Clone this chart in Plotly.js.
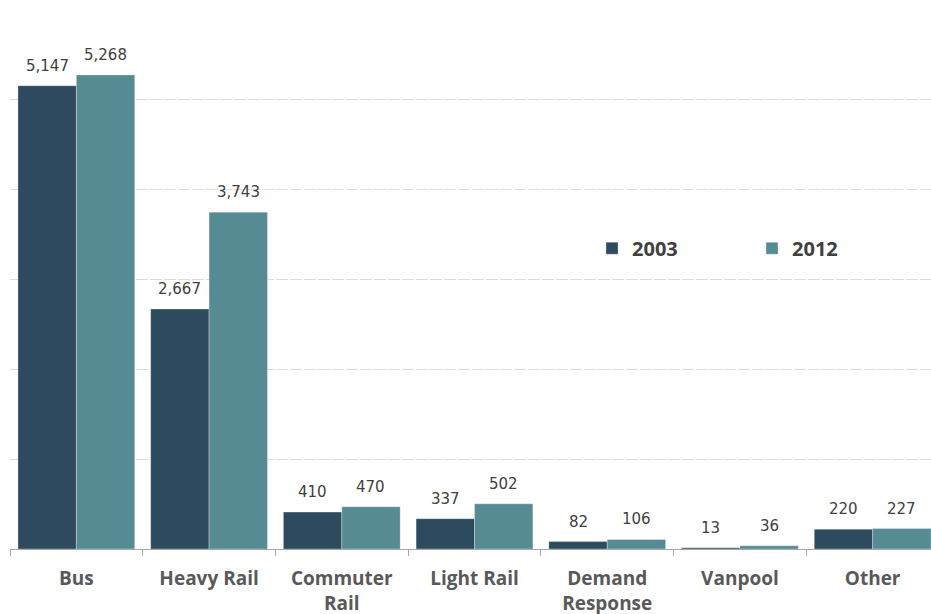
<!DOCTYPE html>
<html><head><meta charset="utf-8">
<script src="https://cdn.plot.ly/plotly-3.0.1.min.js"></script>
<style>html,body{margin:0;padding:0;overflow:hidden;background:#fff}</style>
</head><body><div id="chart"></div>
<script>
const categories = ["Bus", "Heavy Rail", "Commuter<br>Rail", "Light Rail", "Demand<br>Response", "Vanpool", "Other"];
const seriesNames = ["2003", "2012"];
const values2003 = [5147, 2667, 410, 337, 82, 13, 220];
const values2012 = [5268, 3743, 470, 502, 106, 36, 227];
const colors = ["#2d4a5f", "#578b94"];

const fmt = v => v.toLocaleString("en-US");
const traces = [values2003, values2012].map((vals, i) => ({
  type: "bar", name: seriesNames[i], x: categories, y: vals,
  marker: {color: colors[i], line: {color: "rgba(255,255,255,0.6)", width: 0.5}},
  hoverinfo: "skip"
}));

const annotations = [];
[values2003, values2012].forEach((vals, i) => {
  vals.forEach((v, j) => {
    annotations.push({
      x: categories[j], y: v, xref: "x", yref: "y", text: fmt(v), showarrow: false,
      xshift: (i === 0 ? -1 : 1) * 29.2, yanchor: "bottom", yshift: 9,
      font: {family: "DejaVu Sans", size: 15, color: "#404040"}
    });
  });
});

const layout = {
  width: 940, height: 614,
  margin: {l: 10, r: 1, t: 9, b: 65, autoexpand: false},
  paper_bgcolor: "#fff", plot_bgcolor: "#fff",
  barmode: "group", bargap: 0.12, bargroupgap: 0,
  showlegend: true,
  legend: {orientation: "h", x: 0.6265, xanchor: "left", y: 0.557, yanchor: "middle",
    entrywidth: 115, entrywidthmode: "pixels",
    font: {family: "Open Sans", size: 20, color: "#404040", weight: "bold"}},
  xaxis: {type: "category", tickson: "boundaries", ticks: "outside", ticklen: 6, tickcolor: "#a6a6a6",
    showline: true, linecolor: "#a6a6a6", linewidth: 1, showgrid: false,
    range: [-0.5, 6.5], ticklabelstandoff: 12,
    tickfont: {family: "Open Sans", size: 19, color: "#595959", weight: "bold"}},
  yaxis: {range: [0, 6000], dtick: 1000, showticklabels: false, showgrid: true,
    gridcolor: "#dcdcdc", griddash: "12px,2px", zeroline: false, showline: false, ticks: ""},
  annotations: annotations
};
Plotly.newPlot("chart", traces, layout, {displayModeBar: false, staticPlot: true});
</script></body></html>
